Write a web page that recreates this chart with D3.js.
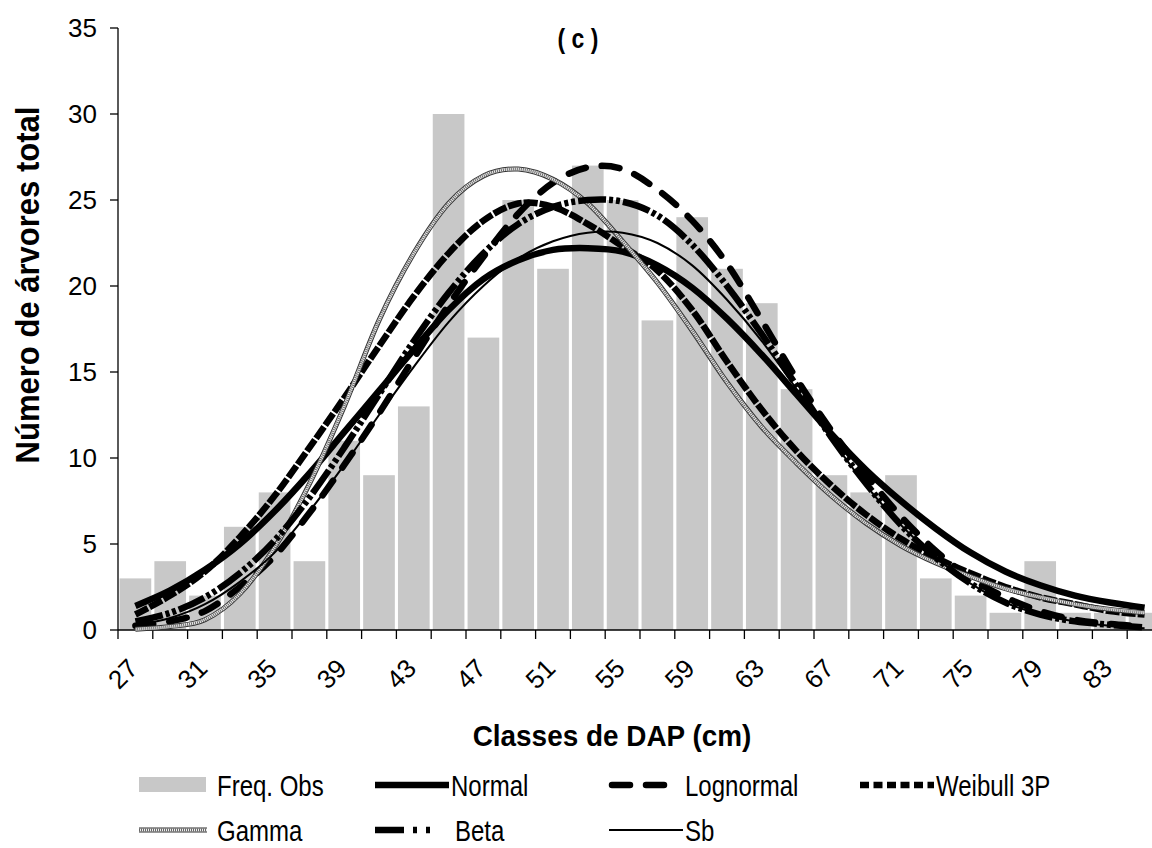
<!DOCTYPE html>
<html>
<head>
<meta charset="utf-8">
<script src="https://cdn.jsdelivr.net/npm/d3@7"></script>
<style>
  body { margin: 0; background: #fff; }
  svg { display: block; }
</style>
</head>
<body>
<div id="chart"></div>
<script>
// diameter classes (cm)
var classes = [27, 29, 31, 33, 35, 37, 39, 41, 43, 45, 47, 49, 51, 53, 55, 57, 59, 61, 63, 65, 67, 69, 71, 73, 75, 77, 79, 81, 83, 85];

// observed frequency
var freqObs = [3, 4, 2, 6, 8, 4, 11, 9, 13, 30, 17, 25, 21, 27, 25, 18, 24, 21, 19, 14, 9, 8, 9, 3, 2, 1, 4, 1, 1, 1];

// fitted distributions (estimated frequencies)
var normal    = [1.4, 2.3, 3.5, 5.0, 6.9, 9.1, 11.5, 13.9, 16.3, 18.6, 20.4, 21.5, 22.1, 22.2, 22.0, 21.2, 19.9, 18.1, 16.0, 13.7, 11.4, 9.3, 7.5, 5.9, 4.5, 3.4, 2.6, 2.0, 1.6, 1.3];
var lognormal = [0.25, 0.5, 1.1, 2.5, 4.3, 6.8, 9.6, 12.6, 15.8, 18.9, 21.7, 24.2, 26.0, 26.9, 26.8, 25.6, 23.8, 21.3, 18.0, 14.6, 11.6, 9.0, 6.6, 4.6, 3.0, 1.9, 1.1, 0.6, 0.35, 0.2];
var weibull3p = [0.9, 2.0, 3.4, 5.4, 7.8, 10.6, 13.5, 16.5, 19.4, 21.9, 23.8, 24.8, 24.6, 23.6, 22.3, 20.9, 18.6, 15.6, 12.8, 10.4, 8.4, 6.7, 5.3, 4.2, 3.3, 2.5, 1.9, 1.5, 1.1, 0.9];
var gamma     = [0.05, 0.2, 0.6, 2.1, 4.8, 8.5, 13.0, 18.0, 21.9, 24.8, 26.4, 26.8, 26.2, 24.8, 22.6, 20.2, 17.4, 14.4, 11.8, 9.7, 7.8, 6.2, 4.9, 3.9, 3.1, 2.4, 1.9, 1.5, 1.2, 1.0];
var beta      = [0.5, 1.0, 1.9, 3.3, 5.2, 7.7, 10.6, 13.7, 16.8, 19.6, 21.9, 23.6, 24.6, 25.0, 24.9, 24.1, 22.4, 20.0, 17.2, 14.2, 11.2, 8.5, 6.1, 4.2, 2.7, 1.6, 0.9, 0.5, 0.3, 0.15];
var sb        = [0.3, 0.7, 1.5, 2.8, 4.5, 6.9, 9.6, 12.5, 15.3, 17.9, 20.0, 21.6, 22.6, 23.1, 23.1, 22.5, 21.2, 19.2, 16.8, 14.0, 11.1, 8.4, 6.1, 4.2, 2.7, 1.6, 0.9, 0.5, 0.25, 0.1];

var yTicks = [0, 5, 10, 15, 20, 25, 30, 35];

var width = 1152, height = 848;
var margin = {top: 28, left: 118};
var plotW = 1044, plotH = 602;

var font = "'Liberation Sans', Arial, sans-serif";

var svg = d3.select("#chart")
  .append("svg")
    .attr("width", width)
    .attr("height", height);

// squeeze text horizontally, the original uses a narrow font
function condense(sel, k) {
  sel.each(function() {
    var len = this.getComputedTextLength();
    d3.select(this).attr("textLength", len * k).attr("lengthAdjust", "spacingAndGlyphs");
  });
}

var x = d3.scaleBand()
    .domain(classes)
    .range([margin.left, margin.left + plotW])
    .paddingInner(0.09)
    .paddingOuter(0.045);

var y = d3.scaleLinear()
    .domain([0, 35])
    .range([margin.top + plotH, margin.top]);

// style per series, drawn in Excel's series order
var series = [
  {name: "Normal",     values: normal,    width: 6.5, dash: null,                 legendDash: null,            cap: "butt"},
  {name: "Lognormal",  values: lognormal, width: 6.5, dash: "18,16",              legendDash: "18,16",         cap: "round"},
  {name: "Weibull 3P", values: weibull3p, width: 6.5, dash: "14,2",               legendDash: "9,4.5",         cap: "butt"},
  {name: "Gamma",      values: gamma,     width: 5,   dash: null,                 legendDash: null,            cap: "butt", hatched: true},
  {name: "Beta",       values: beta,      width: 6.5, dash: "28,3,4,3,4,3",       legendDash: "29,9,4,9,4,40", cap: "butt"},
  {name: "Sb",         values: sb,        width: 2,   dash: null,                 legendDash: null,            cap: "butt"}
];

function cx(c) { return x(c) + x.bandwidth() / 2; }
function edge(i) { return margin.left + i * x.step(); }

// bars
svg.append("g")
  .selectAll("rect")
  .data(classes)
  .enter()
  .append("rect")
    .attr("x", function(d) { return x(d); })
    .attr("y", function(d, i) { return y(freqObs[i]); })
    .attr("width", x.bandwidth())
    .attr("height", function(d, i) { return y(0) - y(freqObs[i]); })
    .attr("fill", "#c8c8c8");

// axes
var axis = svg.append("g").attr("stroke", "#000").attr("stroke-width", 1.3);
axis.append("line")
  .attr("x1", margin.left).attr("x2", margin.left)
  .attr("y1", y(35)).attr("y2", y(0));
axis.append("line")
  .attr("x1", margin.left).attr("x2", margin.left + plotW)
  .attr("y1", y(0)).attr("y2", y(0));

axis.selectAll(".ytick")
  .data(yTicks)
  .enter()
  .append("line")
    .attr("x1", margin.left - 8).attr("x2", margin.left)
    .attr("y1", function(d) { return y(d); })
    .attr("y2", function(d) { return y(d); });

axis.selectAll(".xtick")
  .data(d3.range(classes.length + 1))
  .enter()
  .append("line")
    .attr("x1", function(d) { return edge(d); })
    .attr("x2", function(d) { return edge(d); })
    .attr("y1", y(0)).attr("y2", y(0) + 9);

svg.append("g")
  .selectAll("text")
  .data(yTicks)
  .enter()
  .append("text")
    .attr("x", 97)
    .attr("y", function(d) { return y(d); })
    .attr("dy", "0.36em")
    .attr("text-anchor", "end")
    .style("font-family", font)
    .style("font-size", "26px")
    .text(function(d) { return d; });

svg.append("g")
  .selectAll("text")
  .data(classes.filter(function(d, i) { return i % 2 === 0; }))
  .enter()
  .append("text")
    .attr("transform", function(d) { return "translate(" + (cx(d) + 4) + "," + 670 + ") rotate(-45)"; })
    .attr("text-anchor", "end")
    .style("font-family", font)
    .style("font-size", "26px")
    .text(function(d) { return d; });

// lines
var line = d3.line()
    .x(function(d) { return cx(d.c); })
    .y(function(d) { return y(d.v); })
    .curve(d3.curveCardinal.tension(0));

var lines = svg.append("g").attr("fill", "none");
series.forEach(function(s) {
  var pts = classes.map(function(c, i) { return {c: c, v: s.values[i]}; });
  if (s.hatched) {
    lines.append("path").attr("d", line(pts))
      .attr("stroke", "#333").attr("stroke-width", s.width);
    lines.append("path").attr("d", line(pts))
      .attr("stroke", "#eee").attr("stroke-width", s.width - 2);
    lines.append("path").attr("d", line(pts))
      .attr("stroke", "#666").attr("stroke-width", s.width - 2)
      .attr("stroke-dasharray", "1,1");
  } else {
    lines.append("path").attr("d", line(pts))
      .attr("stroke", "#000")
      .attr("stroke-width", s.width)
      .attr("stroke-linecap", s.cap)
      .attr("stroke-linejoin", "round")
      .attr("stroke-dasharray", s.dash);
  }
});

// titles
svg.append("text")
  .attr("x", 578).attr("y", 48)
  .attr("text-anchor", "middle")
  .style("font-family", font).style("font-weight", "bold").style("font-size", "27px")
  .text("( c )")
  .call(condense, 0.85);

svg.append("text")
  .attr("transform", "translate(39," + 285 + ") rotate(-90)")
  .attr("text-anchor", "middle")
  .style("font-family", font).style("font-weight", "bold").style("font-size", "33px")
  .text("Número de árvores total")
  .call(condense, 0.94);

svg.append("text")
  .attr("x", 612).attr("y", 746)
  .attr("text-anchor", "middle")
  .style("font-family", font).style("font-weight", "bold").style("font-size", "30px")
  .text("Classes de DAP (cm)")
  .call(condense, 0.93);

// legend
var legendItems = [
  {name: "Freq. Obs",  x: 139, row: 0, bar: true},
  {name: "Normal",     x: 375, row: 0, s: series[0]},
  {name: "Lognormal",  x: 609, row: 0, s: series[1]},
  {name: "Weibull 3P", x: 860, row: 0, s: series[2]},
  {name: "Gamma",      x: 139, row: 1, s: series[3]},
  {name: "Beta",       x: 375, row: 1, s: series[4]},
  {name: "Sb",         x: 609, row: 1, s: series[5]}
];
var rowY = [785, 830];

var legend = svg.append("g");
legendItems.forEach(function(it) {
  var ly = rowY[it.row];
  var g = legend.append("g");
  var tx = it.x + 76;
  if (it.bar) {
    g.append("rect").attr("x", it.x).attr("y", ly - 8).attr("width", 67).attr("height", 15).attr("fill", "#c8c8c8");
    tx = it.x + 78;
  } else if (it.s.hatched) {
    [["#333", 0, null], ["#eee", 2, null], ["#666", 2, "1,1"]].forEach(function(p) {
      g.append("line").attr("x1", it.x).attr("x2", it.x + 68).attr("y1", ly).attr("y2", ly)
        .attr("stroke", p[0]).attr("stroke-width", it.s.width - p[1]).attr("stroke-dasharray", p[2]);
    });
    tx = it.x + 78;
  } else {
    var round = it.s.cap === "round";
    g.append("line")
      .attr("x1", round ? it.x + 3 : it.x).attr("x2", round ? it.x + 62 : it.x + 74)
      .attr("y1", ly).attr("y2", ly)
      .attr("stroke", "#000").attr("stroke-width", it.s.width)
      .attr("stroke-linecap", it.s.cap)
      .attr("stroke-dasharray", it.s.legendDash);
    if (it.name === "Beta") tx = it.x + 80;
  }
  g.append("text")
    .attr("x", tx)
    .attr("y", ly)
    .attr("dy", "0.36em")
    .style("font-family", font).style("font-size", "30px")
    .text(it.name)
    .call(condense, 0.8);
});
</script>
</body>
</html>
